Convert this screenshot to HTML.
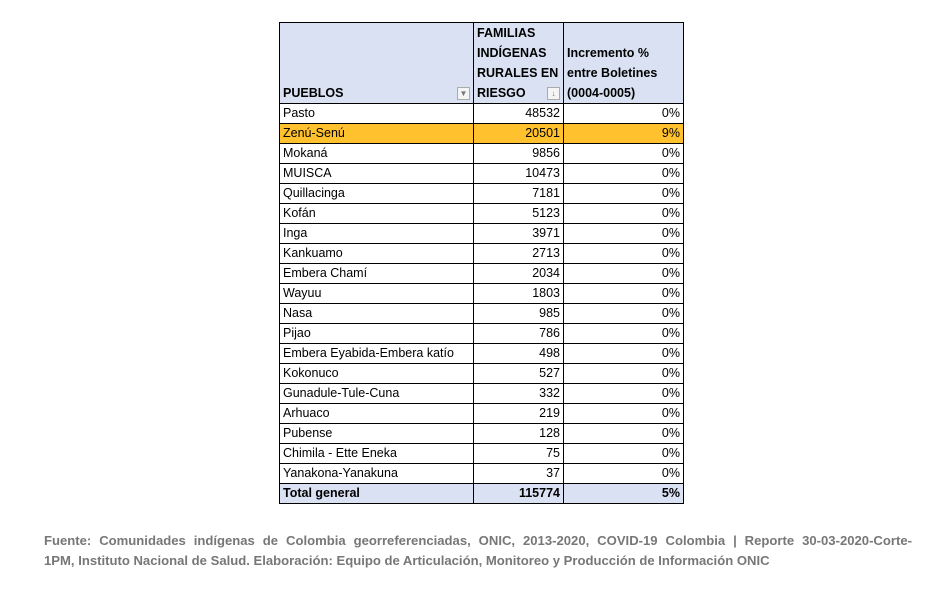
<!DOCTYPE html>
<html><head><meta charset="utf-8"><style>
body{margin:0;width:948px;height:598px;background:#fff;font-family:"Liberation Sans",sans-serif;position:relative;overflow:hidden}
table{position:absolute;left:279px;top:22px;border-collapse:collapse;font-size:12.5px;color:#000}
td{border:1px solid #000;height:19px;padding:0 3px;line-height:19px;white-space:nowrap}
td.n{text-align:right}
th{background:#d9e1f2;border:1px solid #000;text-align:left;vertical-align:bottom;font-weight:bold;padding:0 3px;line-height:20px;font-size:12.5px}
tr.hl td{background:#ffc12e}
tr.tot td{background:#d9e1f2;font-weight:bold}
.dd{display:inline-block;width:11px;height:11px;border:1px solid #aaa;float:right;margin-top:4px;font-size:8px;line-height:11px;text-align:center;color:#777;background:#f4f4f4;font-weight:normal}
#foot{position:absolute;left:44px;top:531px;width:868px;font-size:13.1px;font-weight:bold;color:#777;line-height:20px}
#foot .l1{display:block;text-align:justify;text-align-last:justify;white-space:nowrap}
</style></head><body>
<table>
<tr style="height:80px">
<th style="width:187px">PUEBLOS<span class="dd">▼</span></th>
<th style="width:83px">FAMILIAS<br>INDÍGENAS<br>RURALES EN<br>RIESGO<span class="dd">↓</span></th>
<th style="width:113px">Incremento %<br>entre Boletines<br>(0004-0005)</th>
</tr>
<tbody id="tb"></tbody>
</table>
<div id="foot"><span class="l1">Fuente: Comunidades indígenas de Colombia georreferenciadas, ONIC, 2013-2020, COVID-19 Colombia | Reporte 30-03-2020-Corte-</span>1PM, Instituto Nacional de Salud. Elaboración: Equipo de Articulación, Monitoreo y Producción de Información ONIC</div>
<script>
const pueblos=["Pasto","Zenú-Senú","Mokaná","MUISCA","Quillacinga","Kofán","Inga","Kankuamo","Embera Chamí","Wayuu","Nasa","Pijao","Embera Eyabida-Embera katío","Kokonuco","Gunadule-Tule-Cuna","Arhuaco","Pubense","Chimila - Ette Eneka","Yanakona-Yanakuna","Total general"];
const familias=[48532,20501,9856,10473,7181,5123,3971,2713,2034,1803,985,786,498,527,332,219,128,75,37,115774];
const incremento=["0%","9%","0%","0%","0%","0%","0%","0%","0%","0%","0%","0%","0%","0%","0%","0%","0%","0%","0%","5%"];
const tb=document.getElementById('tb');
pueblos.forEach((p,i)=>{
const tr=document.createElement('tr');


if(i===1)tr.className='hl';
if(i===pueblos.length-1)tr.className='tot';
[[p,''],[familias[i],'n'],[incremento[i],'n']].forEach(([v,c],j)=>{
const td=document.createElement('td');


td.className=c;td.textContent=v;tr.appendChild(td);
});
tb.appendChild(tr);
});
</script>
</body></html>
